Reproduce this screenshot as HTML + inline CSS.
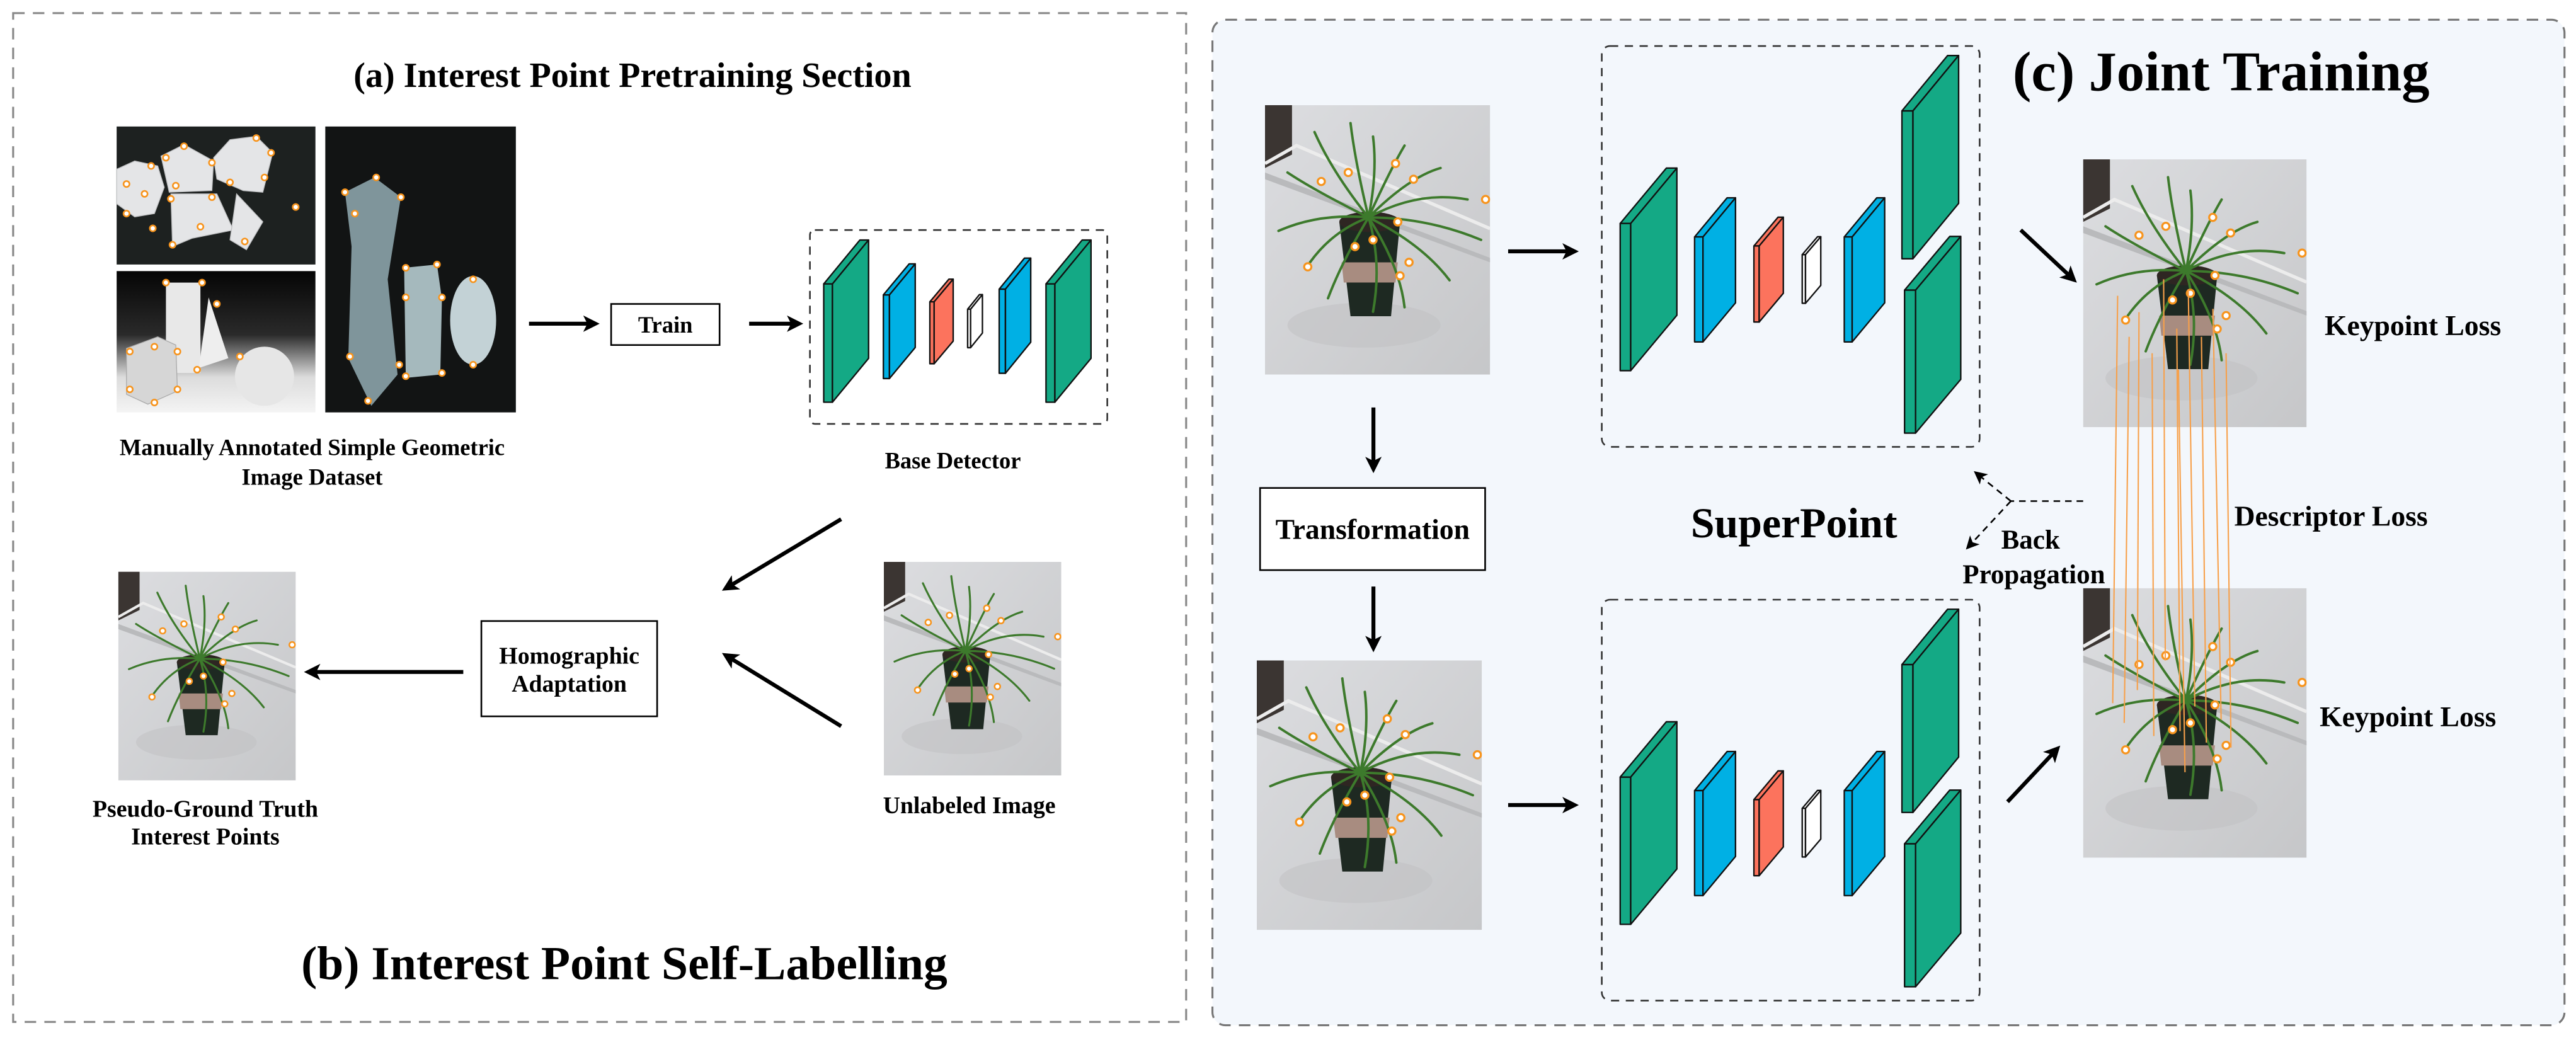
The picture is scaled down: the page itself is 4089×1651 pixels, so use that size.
<!DOCTYPE html>
<html><head><meta charset="utf-8"><style>
html,body{margin:0;padding:0;background:#fff;}
svg{display:block;}
text{font-family:"Liberation Serif",serif;font-weight:bold;fill:#000;}
</style></head><body>
<svg width="4089" height="1651" viewBox="0 0 1568 633" preserveAspectRatio="none" xmlns="http://www.w3.org/2000/svg">
<defs>
<marker id="ah" markerWidth="10" markerHeight="10" refX="7" refY="5" orient="auto" markerUnits="userSpaceOnUse">
<path d="M0,0 L10,5 L0,10 L2.5,5 Z" fill="#000"/></marker>
<marker id="ahs" markerWidth="8" markerHeight="8" refX="6" refY="4" orient="auto" markerUnits="userSpaceOnUse">
<path d="M0,0 L8,4 L0,8 L2,4 Z" fill="#000"/></marker>
<linearGradient id="wall" x1="0" y1="0" x2="1" y2="1"><stop offset="0" stop-color="#dcdde0"/><stop offset="1" stop-color="#c6c7c9"/></linearGradient>
<linearGradient id="bw" x1="0" y1="0" x2="0" y2="1"><stop offset="0" stop-color="#050505"/><stop offset="0.45" stop-color="#2a2a2a"/><stop offset="0.75" stop-color="#dcdcdc"/><stop offset="1" stop-color="#f4f4f4"/></linearGradient>
<symbol id="plant" viewBox="0 0 100 120" preserveAspectRatio="none">
<rect width="100" height="120" fill="url(#wall)"/>
<path d="M0,0 L12,0 L12,22 L0,28 Z" fill="#3b3532"/>
<path d="M0,30 L100,68 L100,70 L0,33 Z" fill="#b9babc"/>
<path d="M0,26 L14,18 L100,55" stroke="#ececec" stroke-width="1.5" fill="none"/>
<ellipse cx="44" cy="98" rx="34" ry="10" fill="#bfc0c2" opacity="0.5"/>
<path d="M33,52 L60,52 L56,94 L38,94 Z" fill="#1e2922"/>
<path d="M34,70 L59,70 L58,79 L35,79 Z" fill="#a88c80"/>
<ellipse cx="46.5" cy="52" rx="13.5" ry="4.5" fill="#2e2622"/>
<g stroke="#3d7a2c" stroke-width="1.1" fill="none" stroke-linecap="round">
<path d="M46,50 Q30,30 22,12"/><path d="M46,50 Q40,25 38,8"/><path d="M46,50 Q56,28 62,18"/>
<path d="M46,50 Q68,38 90,42"/><path d="M46,50 Q72,50 96,60"/><path d="M46,50 Q70,62 82,78"/>
<path d="M46,50 Q60,72 62,90"/><path d="M46,50 Q34,70 28,86"/><path d="M46,50 Q24,48 6,56"/>
<path d="M46,50 Q22,38 10,30"/><path d="M46,50 Q52,70 48,92"/><path d="M46,50 Q64,32 78,28"/>
<path d="M46,50 Q30,56 20,70"/><path d="M46,50 Q50,30 48,14"/>
</g>
<g fill="#fff" stroke="#f7941d" stroke-width="0.9">
<circle cx="58" cy="26" r="1.6"/><circle cx="37" cy="30" r="1.6"/><circle cx="25" cy="34" r="1.6"/>
<circle cx="66" cy="33" r="1.6"/><circle cx="98" cy="42" r="1.6"/><circle cx="59" cy="52" r="1.6"/>
<circle cx="48" cy="60" r="1.6"/><circle cx="40" cy="63" r="1.6"/><circle cx="64" cy="70" r="1.6"/>
<circle cx="19" cy="72" r="1.6"/><circle cx="60" cy="76" r="1.6"/>
</g>
</symbol>
</defs>

<rect x="8" y="8" width="714" height="614" fill="#fff" stroke="#888" stroke-width="1.2" stroke-dasharray="7,5"/>
<rect x="738" y="12" width="823" height="612" rx="8" fill="#f3f7fc" stroke="#777" stroke-width="1.2" stroke-dasharray="7,5"/>

<text x="385" y="53" font-size="21.5" text-anchor="middle">(a)  Interest Point Pretraining Section</text>
<rect x="71" y="77" width="121" height="84" fill="#1d2120"/>
<g fill="#e4e5e7" stroke="#bfc0c2" stroke-width="0.5">
<path d="M71,103 L82,98 L96,101 L100,114 L94,130 L82,132 L71,124 Z"/>
<path d="M98,95 L112,88 L130,98 L129,116 L103,117 Z"/>
<path d="M130,96 L140,85 L156,83 L166,93 L160,117 L148,116 L132,109 Z"/>
<path d="M104,118 L132,118 L142,140 L117,145 L105,150 Z"/>
<path d="M144,118 L160,135 L150,152 L140,146 Z"/>
</g>
<rect x="71" y="165" width="121" height="86" fill="url(#bw)"/>
<rect x="101" y="172" width="21" height="55" fill="#e8e8e8"/>
<path d="M77,212 L96,205 L107,210 L108,238 L90,246 L77,240 Z" fill="#d6d6d6" stroke="#aaa" stroke-width="0.5"/>
<path d="M127,181 L139,218 L121,224 Z" fill="#eee"/>
<circle cx="161" cy="229" r="18" fill="#e6e6e6"/>
<rect x="198" y="77" width="116" height="174" fill="#121414"/>
<path d="M210,117 L228,108 L244,120 L236,170 L242,228 L226,247 L212,218 L214,150 Z" fill="#7f959b"/>
<path d="M246,163 L266,161 L269,182 L268,228 L247,230 Z" fill="#a5b9bd"/>
<ellipse cx="288" cy="195" rx="14" ry="27" fill="#c3d2d6"/>
<g fill="#fff" stroke="#f7941d" stroke-width="1">
<circle cx="77" cy="112" r="1.8"/><circle cx="92" cy="101" r="1.8"/><circle cx="88" cy="118" r="1.8"/><circle cx="77" cy="130" r="1.8"/>
<circle cx="112" cy="89" r="1.8"/><circle cx="101" cy="96" r="1.8"/><circle cx="129" cy="99" r="1.8"/><circle cx="107" cy="113" r="1.8"/>
<circle cx="156" cy="84" r="1.8"/><circle cx="165" cy="93" r="1.8"/><circle cx="161" cy="108" r="1.8"/><circle cx="140" cy="111" r="1.8"/>
<circle cx="129" cy="120" r="1.8"/><circle cx="104" cy="121" r="1.8"/><circle cx="122" cy="138" r="1.8"/><circle cx="105" cy="149" r="1.8"/><circle cx="149" cy="147" r="1.8"/><circle cx="180" cy="126" r="1.8"/><circle cx="93" cy="139" r="1.8"/>
<circle cx="101" cy="172" r="1.8"/><circle cx="123" cy="172" r="1.8"/><circle cx="132" cy="185" r="1.8"/><circle cx="94" cy="211" r="1.8"/><circle cx="79" cy="214" r="1.8"/><circle cx="108" cy="214" r="1.8"/><circle cx="146" cy="217" r="1.8"/><circle cx="79" cy="237" r="1.8"/><circle cx="108" cy="237" r="1.8"/><circle cx="94" cy="245" r="1.8"/><circle cx="120" cy="225" r="1.8"/>
<circle cx="229" cy="108" r="1.8"/><circle cx="210" cy="117" r="1.8"/><circle cx="244" cy="120" r="1.8"/><circle cx="216" cy="130" r="1.8"/><circle cx="213" cy="217" r="1.8"/><circle cx="243" cy="222" r="1.8"/><circle cx="224" cy="244" r="1.8"/>
<circle cx="247" cy="163" r="1.8"/><circle cx="266" cy="161" r="1.8"/><circle cx="247" cy="181" r="1.8"/><circle cx="269" cy="181" r="1.8"/><circle cx="247" cy="229" r="1.8"/><circle cx="269" cy="227" r="1.8"/><circle cx="288" cy="170" r="1.8"/><circle cx="288" cy="222" r="1.8"/>
</g>
<text x="190" y="277" font-size="14" text-anchor="middle">Manually Annotated Simple Geometric</text>
<text x="190" y="295" font-size="14" text-anchor="middle">Image Dataset</text>

<g stroke="#000" stroke-width="2.4" fill="none">
<line x1="322" y1="197" x2="362" y2="197" marker-end="url(#ah)"/>
<line x1="456" y1="197" x2="486" y2="197" marker-end="url(#ah)"/>
<line x1="512" y1="316" x2="442" y2="358" marker-end="url(#ah)"/>
<line x1="512" y1="442" x2="442" y2="399" marker-end="url(#ah)"/>
<line x1="282" y1="409" x2="188" y2="409" marker-end="url(#ah)"/>
<line x1="836" y1="248" x2="836" y2="285" marker-end="url(#ah)"/>
<line x1="836" y1="357" x2="836" y2="394" marker-end="url(#ah)"/>
<line x1="918" y1="153" x2="958" y2="153" marker-end="url(#ah)"/>
<line x1="918" y1="490" x2="958" y2="490" marker-end="url(#ah)"/>
<line x1="1230" y1="140" x2="1262" y2="170" marker-end="url(#ah)"/>
<line x1="1222" y1="488" x2="1252" y2="456" marker-end="url(#ah)"/>
</g>
<rect x="372" y="185" width="66" height="25" fill="#fff" stroke="#000" stroke-width="1"/>
<text x="405" y="202.5" font-size="14" text-anchor="middle">Train</text>

<rect x="493" y="140" width="181" height="118" rx="3" fill="none" stroke="#333" stroke-width="1" stroke-dasharray="5,4"/>
<g stroke="#111" stroke-width="0.9" stroke-linejoin="round">
<g fill="#14a985">
<path d="M501.4,172.8 l22,-26.7 l5.3,0 l-22,26.7 Z"/><rect x="501.4" y="172.8" width="5.3" height="72"/><path d="M506.7,172.8 l22,-26.7 l0,72 l-22,26.7 Z"/>
<path d="M636.7,172.8 l22,-26.7 l5.4,0 l-22,26.7 Z"/><rect x="636.7" y="172.8" width="5.4" height="72"/><path d="M642.1,172.8 l22,-26.7 l0,72 l-22,26.7 Z"/>
</g>
<g fill="#00b0e4">
<path d="M537.7,179.5 l15.7,-18.9 l3.7,0 l-15.7,18.9 Z"/><rect x="537.7" y="179.5" width="3.7" height="50.9"/><path d="M541.4,179.5 l15.7,-18.9 l0,50.9 l-15.7,18.9 Z"/>
<path d="M608.2,176 l15.4,-18.9 l3.8,0 l-15.4,18.9 Z"/><rect x="608.2" y="176" width="3.8" height="51.2"/><path d="M612,176 l15.4,-18.9 l0,51.2 l-15.4,18.9 Z"/>
</g>
<g fill="#fc735d"><path d="M566,183.7 l11.6,-13.8 l2.6,0 l-11.6,13.8 Z"/><rect x="566" y="183.7" width="2.6" height="37.7"/><path d="M568.6,183.7 l11.6,-13.8 l0,37.7 l-11.6,13.8 Z"/></g>
<g fill="#fff"><path d="M589,188.2 l7.2,-8.9 l1.8,0 l-7.2,8.9 Z"/><rect x="589" y="188.2" width="1.8" height="23.4"/><path d="M590.8,188.2 l7.2,-8.9 l0,23.4 l-7.2,8.9 Z"/></g>
</g>
<text x="580" y="285" font-size="14" text-anchor="middle">Base Detector</text>

<use href="#plant" x="72" y="348" width="108" height="127"/>
<use href="#plant" x="538" y="342" width="108" height="130"/>
<rect x="293" y="378" width="107" height="58" fill="#fff" stroke="#000" stroke-width="1"/>
<text x="346.5" y="404" font-size="14.5" text-anchor="middle">Homographic</text>
<text x="346.5" y="421" font-size="14.5" text-anchor="middle">Adaptation</text>
<text x="125" y="497" font-size="14.5" text-anchor="middle">Pseudo-Ground Truth</text>
<text x="125" y="514" font-size="14.5" text-anchor="middle">Interest Points</text>
<text x="590" y="495" font-size="14.5" text-anchor="middle">Unlabeled Image</text>
<text x="380" y="596" font-size="29" text-anchor="middle">(b)  Interest Point Self-Labelling</text>

<text x="1352" y="55" font-size="34" text-anchor="middle">(c) Joint Training</text>
<use href="#plant" x="770" y="64" width="137" height="164"/>
<use href="#plant" x="765" y="402" width="137" height="164"/>
<rect x="767" y="297" width="137" height="50" fill="#fff" stroke="#000" stroke-width="1"/>
<text x="835.5" y="328" font-size="17.5" text-anchor="middle">Transformation</text>
<text x="1092" y="327" font-size="26" text-anchor="middle">SuperPoint</text>

<g id="sp">
<rect x="975" y="28" width="230" height="244" rx="5" fill="none" stroke="#333" stroke-width="1" stroke-dasharray="5,4"/>
<g stroke="#111" stroke-width="0.9" stroke-linejoin="round">
<g fill="#14a985">
<path d="M986.2,136 l28.1,-33.7 l6.4,0 l-28.1,33.7 Z"/><rect x="986.2" y="136" width="6.4" height="89.6"/><path d="M992.6,136 l28.1,-33.7 l0,89.6 l-28.1,33.7 Z"/>
<path d="M1157.7,67.5 l27.8,-33.7 l6.7,0 l-27.8,33.7 Z"/><rect x="1157.7" y="67.5" width="6.7" height="90"/><path d="M1164.4,67.5 l27.8,-33.7 l0,90 l-27.8,33.7 Z"/>
<path d="M1159.3,176.6 l27.5,-32.7 l6.7,0 l-27.5,32.7 Z"/><rect x="1159.3" y="176.6" width="6.7" height="87"/><path d="M1166,176.6 l27.5,-32.7 l0,87 l-27.5,32.7 Z"/>
</g>
<g fill="#00b0e4">
<path d="M1031.5,144.2 l19.8,-23.8 l5.1,0 l-19.8,23.8 Z"/><rect x="1031.5" y="144.2" width="5.1" height="63.9"/><path d="M1036.6,144.2 l19.8,-23.8 l0,63.9 l-19.8,23.8 Z"/>
<path d="M1122.6,144.2 l19.8,-23.8 l4.8,0 l-19.8,23.8 Z"/><rect x="1122.6" y="144.2" width="4.8" height="63.9"/><path d="M1127.4,144.2 l19.8,-23.8 l0,63.9 l-19.8,23.8 Z"/>
</g>
<g fill="#fc735d"><path d="M1067.6,149.7 l14.7,-17.5 l3.2,0 l-14.7,17.5 Z"/><rect x="1067.6" y="149.7" width="3.2" height="46.3"/><path d="M1070.8,149.7 l14.7,-17.5 l0,46.3 l-14.7,17.5 Z"/></g>
<g fill="#fff"><path d="M1097,155 l9.3,-10.9 l2,0 l-9.3,10.9 Z"/><rect x="1097" y="155" width="2" height="29.6"/><path d="M1099,155 l9.3,-10.9 l0,29.6 l-9.3,10.9 Z"/></g>
</g>
</g>
<use href="#sp" transform="translate(0,337)"/>

<use href="#plant" x="1268" y="97" width="136" height="163"/>
<use href="#plant" x="1268" y="358" width="136" height="164"/>
<g stroke="#f7a04a" stroke-width="0.8" fill="none">
<line x1="1289" y1="180" x2="1286" y2="428"/><line x1="1296" y1="205" x2="1293" y2="440"/>
<line x1="1302" y1="190" x2="1301" y2="420"/><line x1="1310" y1="215" x2="1311" y2="448"/>
<line x1="1317" y1="170" x2="1318" y2="402"/><line x1="1325" y1="200" x2="1327" y2="445"/>
<line x1="1332" y1="176" x2="1336" y2="430"/><line x1="1340" y1="205" x2="1343" y2="452"/>
<line x1="1347" y1="188" x2="1352" y2="438"/><line x1="1355" y1="215" x2="1358" y2="455"/>
<line x1="1326" y1="225" x2="1330" y2="470"/>
</g>
<text x="1415" y="204" font-size="17.5">Keypoint Loss</text>
<text x="1360" y="320" font-size="17.5">Descriptor Loss</text>
<text x="1412" y="442" font-size="17.5">Keypoint Loss</text>

<g stroke="#000" stroke-width="1" stroke-dasharray="4,3" fill="none">
<line x1="1268" y1="305" x2="1224" y2="305"/>
<line x1="1224" y1="305" x2="1203" y2="288" marker-end="url(#ahs)"/>
<line x1="1224" y1="305" x2="1198" y2="333" marker-end="url(#ahs)"/>
</g>
<text x="1236" y="334" font-size="16.5" text-anchor="middle">Back</text>
<text x="1238" y="355" font-size="16.5" text-anchor="middle">Propagation</text>
</svg>
</body></html>
